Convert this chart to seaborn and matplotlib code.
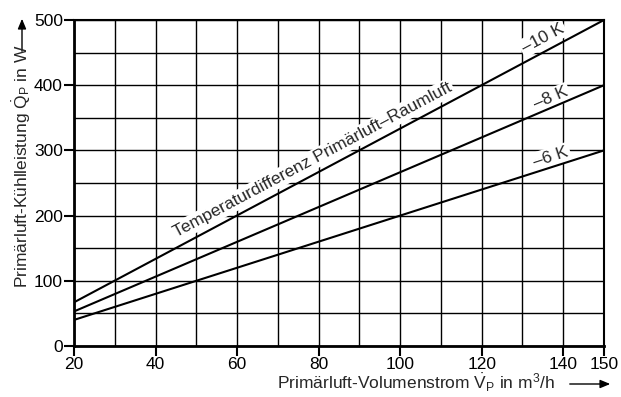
import matplotlib
matplotlib.use("Agg")
import matplotlib.pyplot as plt
import seaborn as sns
import pandas as pd
from matplotlib import font_manager

# ---- data ----
volume_flow = [20, 150]                 # m3/h
cooling_10k = [67, 500]                 # W
cooling_8k = [53, 400]
cooling_6k = [40, 300]
series_names = ["–10 K", "–8 K", "–6 K"]
x_ticks = [20, 40, 60, 80, 100, 120, 140, 150]
y_ticks = [0, 100, 200, 300, 400, 500]

sns.set_theme(style="white")
fams = [f.name for f in font_manager.fontManager.ttflist]
main_font = "Liberation Sans Narrow" if "Liberation Sans Narrow" in fams else "Liberation Sans"
plt.rcParams["font.family"] = [main_font, "DejaVu Sans"]
plt.rcParams["mathtext.fontset"] = "custom"
plt.rcParams["mathtext.rm"] = main_font
plt.rcParams["mathtext.it"] = main_font
plt.rcParams["mathtext.bf"] = main_font

df = pd.DataFrame({
    "V": volume_flow * 3,
    "Q": cooling_10k + cooling_8k + cooling_6k,
    "s": [series_names[0]] * 2 + [series_names[1]] * 2 + [series_names[2]] * 2,
})

fig = plt.figure(figsize=(6.21, 3.97), dpi=100)
ax = fig.add_axes([74 / 621, 1 - 346 / 397, 530 / 621, 326 / 397])

sns.lineplot(data=df, x="V", y="Q", hue="s", palette=["black"] * 3,
             legend=False, ax=ax, lw=1.5, zorder=3)

ax.set_xlim(20, 150)
ax.set_ylim(0, 500)
ax.set_xticks(x_ticks)
ax.set_xticks(range(20, 151, 10), minor=True)
ax.set_yticks(y_ticks)
ax.set_yticks(range(0, 501, 50), minor=True)
ax.grid(True, which="both", color="black", lw=1.0)
ax.set_axisbelow(True)
ax.tick_params(axis="both", which="major", labelsize=12.5, colors="black",
               length=7, width=1.5, direction="out", pad=1, left=True, bottom=True)
ax.tick_params(axis="both", which="minor", length=0)
ax.set_xlabel("")
ax.set_ylabel("")
for s in ["left", "bottom"]:
    ax.spines[s].set_linewidth(2.0)
    ax.spines[s].set_color("black")
for s in ["top", "right"]:
    ax.spines[s].set_linewidth(1.5)
    ax.spines[s].set_color("black")

box = dict(facecolor="white", edgecolor="none", pad=1.5)
ax.text(135, 472, series_names[0], rotation=28, ha="center", va="center",
        fontsize=12.5, bbox=box, zorder=2.5, rotation_mode="anchor")
ax.text(137, 380, series_names[1], rotation=23, ha="center", va="center",
        fontsize=12.5, bbox=box, zorder=2.5, rotation_mode="anchor")
ax.text(137, 290, series_names[2], rotation=18, ha="center", va="center",
        fontsize=12.5, bbox=box, zorder=2.5, rotation_mode="anchor")
ax.text(78.5, 285, "Temperaturdifferenz Primärluft–Raumluft", rotation=28,
        ha="center", va="center", fontsize=12.5, bbox=box, zorder=2.5,
        rotation_mode="anchor")

# axis labels with arrows
fig.text(555 / 621, 1 - 383 / 397,
         r"Primärluft-Volumenstrom $\dot{\mathrm{V}}_\mathrm{P}$ in m$^3$/h",
         ha="right", va="center", fontsize=12.5)
fig.add_artist(matplotlib.patches.FancyArrowPatch(
    (567 / 621, 1 - 384 / 397), (613 / 621, 1 - 384 / 397),
    transform=fig.transFigure, arrowstyle="-|>,head_length=6,head_width=2.5",
    color="black", lw=1.0))
fig.text(22 / 621, 1 - 288 / 397,
         r"Primärluft-Kühlleistung $\dot{\mathrm{Q}}_\mathrm{P}$ in W",
         ha="center", va="bottom", rotation=90, fontsize=12.5)
fig.add_artist(matplotlib.patches.FancyArrowPatch(
    (22 / 621, 1 - 54 / 397), (22 / 621, 1 - 16 / 397),
    transform=fig.transFigure, arrowstyle="-|>,head_length=6,head_width=2.5",
    color="black", lw=1.0))

fig.savefig("out.png", dpi=100)
